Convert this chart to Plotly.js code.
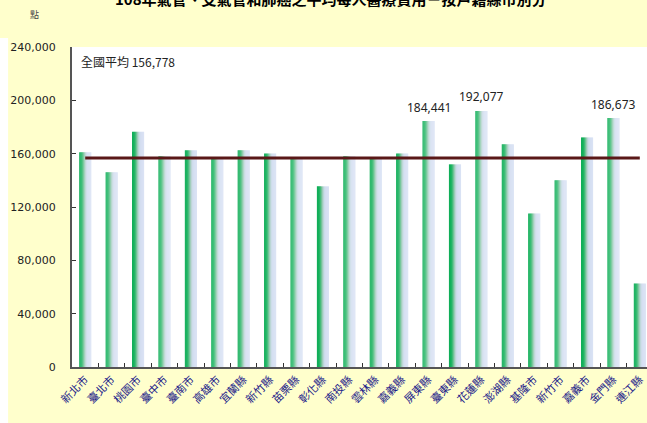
<!DOCTYPE html>
<html>
<head>
<meta charset="utf-8">
<script src="https://cdn.plot.ly/plotly-3.0.1.min.js"></script>
<style>
html,body{margin:0;padding:0;overflow:hidden;background:#ffffcc;}
#chart{width:655px;height:423px;}
</style>
</head>
<body>
<div id="chart"></div>
<script>
const categories = ["新北市","臺北市","桃園市","臺中市","臺南市","高雄市","宜蘭縣","新竹縣","苗栗縣","彰化縣","南投縣","雲林縣","嘉義縣","屏東縣","臺東縣","花蓮縣","澎湖縣","基隆市","新竹市","嘉義市","金門縣","連江縣"];
const values = [161000,146000,176400,158000,162500,156500,162500,160200,157000,135500,158000,156500,160200,184441,152000,192077,167000,115200,140000,172200,186673,62700];
const nationalAvg = 156778;
const labeledCats = ["屏東縣","花蓮縣","金門縣"];
const yTicks = [0,40000,80000,120000,160000,200000,240000];

const titleText = "108年氣管、支氣管和肺癌之平均每人醫療費用－按戶籍縣市別分";

// gradient slices (left -> right) to mimic the green-to-blue bar fill
const sliceColors = ["#10ae58","#12b05a","#1fb463","#40ba76","#6cc294","#98cbb5","#b8d4d4","#cadbe8","#d2ddf0","#d5dff2","#d7e0f3","#d9e2f4"];
const barWidthCat = 0.455;
const step = barWidthCat / sliceColors.length;

const traces = sliceColors.map((c, i) => ({
  type: "bar",
  x: categories,
  y: values,
  offset: -barWidthCat/2 + i*step,
  width: step*1.12,
  marker: {color: c, line: {width: 0}},
  hoverinfo: "skip",
  showlegend: false
}));

traces.push({
  type: "scatter",
  mode: "lines",
  x: categories,
  y: categories.map(() => nationalAvg),
  line: {color: "#5a1818", width: 3},
  hoverinfo: "skip",
  showlegend: false
});

const annotations = labeledCats.map(cat => {
  const v = values[categories.indexOf(cat)];
  return {
    x: cat, y: v, xref: "x", yref: "y",
    text: v.toLocaleString("en-US"),
    showarrow: false, yshift: 14,
    font: {family: "Noto Sans, Open Sans, sans-serif", size: 12, color: "#222"}
  };
});
annotations.push({
  xref: "paper", yref: "paper", x: 0.012, y: 0.955, xanchor: "left", yanchor: "middle",
  text: "全國平均 " + nationalAvg.toLocaleString("en-US"),
  showarrow: false,
  font: {family: "Noto Sans CJK TC, Noto Sans, sans-serif", size: 12, color: "#222"}
});
annotations.push({
  xref: "paper", yref: "paper", x: -0.064, y: 1.1, xanchor: "center", yanchor: "middle",
  text: "點", showarrow: false,
  font: {family: "Noto Sans CJK TC, sans-serif", size: 9, color: "#444"}
});

const layout = {
  width: 655, height: 423,
  margin: {l: 72, r: 2, t: 47, b: 56, pad: 0},
  paper_bgcolor: "#ffffcc",
  plot_bgcolor: "#ffffff",
  barmode: "overlay",
  showlegend: false,
  title: {
    text: titleText,
    xref: "container", yref: "container",
    x: 0.505, xanchor: "center",
    y: 1.0, yanchor: "middle",
    font: {family: "Noto Sans CJK TC, sans-serif", size: 15, color: "#000", weight: "bold"}
  },
  xaxis: {
    type: "category",
    range: [-0.5, categories.length - 0.5],
    showline: true, linecolor: "#555", linewidth: 2,
    ticks: "inside", ticklen: 4, tickcolor: "#333", tickwidth: 1,
    tickson: "boundaries",
    tickangle: -45,
    tickfont: {family: "Noto Sans CJK TC, sans-serif", size: 11, color: "#1a1a8a"},
    showgrid: false, zeroline: false, fixedrange: true
  },
  yaxis: {
    range: [0, 240000],
    tickvals: yTicks,
    ticktext: yTicks.map(v => v.toLocaleString("en-US")),
    showline: true, linecolor: "#555", linewidth: 2,
    ticks: "inside", ticklen: 4, tickcolor: "#333", tickwidth: 1,
    ticklabelstandoff: 12,
    tickfont: {family: "DejaVu Sans, sans-serif", size: 11, color: "#222"},
    showgrid: false, zeroline: false, fixedrange: true
  },
  shapes: [{
    type: "rect", xref: "paper", yref: "paper",
    x0: -0.13, x1: -0.110, y0: -0.2, y1: 1.028,
    fillcolor: "#ffffff", line: {width: 0}, layer: "below"
  }],
  annotations: annotations
};

Plotly.newPlot("chart", traces, layout, {displayModeBar: false, staticPlot: true});
</script>
</body>
</html>
